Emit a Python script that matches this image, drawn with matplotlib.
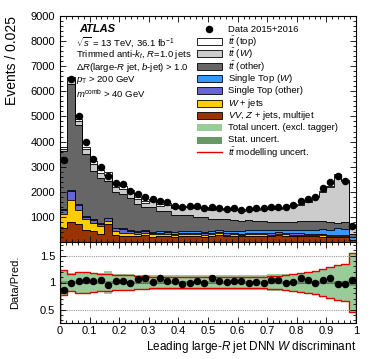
import numpy as np
import matplotlib
matplotlib.use('Agg')
import matplotlib.pyplot as plt
from matplotlib.ticker import MultipleLocator, FixedLocator
from matplotlib.patches import Rectangle

plt.rcParams['font.family'] = ['Liberation Sans', 'DejaVu Sans']
plt.rcParams['mathtext.fontset'] = 'custom'
plt.rcParams['mathtext.rm'] = 'Liberation Sans'
plt.rcParams['mathtext.it'] = 'Liberation Sans:italic'
plt.rcParams['mathtext.bf'] = 'Liberation Sans:bold'

# ── data (40 bins of 0.025) ───────────────────────────────────────────────────
edges = np.linspace(0.0, 1.0, 41)

data = [3280, 6500, 5010, 4000, 3310, 3000, 2640, 2350, 2290, 2040,
        1910, 1780, 1720, 1650, 1590, 1440, 1400, 1430, 1430, 1370,
        1400, 1370, 1330, 1360, 1290, 1320, 1340, 1350, 1390, 1400,
        1410, 1480, 1650, 1720, 1790, 2150, 2380, 2640, 2410, 620]

vv = [550, 800, 700, 480, 420, 330, 700, 260, 230, 250,
      220, 260, 200, 220, 230, 200, 230, 220, 250, 210,
      230, 260, 230, 240, 220, 250, 230, 250, 230, 260,
      240, 230, 230, 220, 220, 210, 200, 200, 200, 60]
wjets = [560, 880, 580, 420, 330, 300, 140, 190, 140, 100,
         110, 90, 100, 80, 90, 70, 80, 90, 60, 70,
         80, 80, 60, 70, 60, 70, 80, 60, 60, 70,
         60, 60, 60, 50, 50, 50, 50, 50, 40, 20]
st_other = [170, 360, 200, 110, 130, 100, 100, 90, 130, 80,
            80, 80, 70, 70, 70, 60, 60, 60, 60, 60,
            60, 50, 50, 50, 50, 50, 50, 50, 50, 50,
            50, 50, 50, 40, 40, 40, 40, 40, 40, 10]
st_w = [30, 30, 30, 30, 30, 30, 30, 30, 40, 40,
        40, 40, 40, 50, 50, 50, 50, 60, 60, 60,
        70, 70, 80, 90, 100, 90, 100, 110, 120, 110,
        120, 130, 130, 150, 170, 200, 170, 270, 230, 120]
tt_other = [2310, 4230, 3150, 2480, 1930, 1790, 1450, 1440, 1380, 1290,
            1050, 910, 990, 820, 780, 680, 660, 630, 580, 580,
            480, 470, 480, 430, 390, 400, 390, 360, 340, 300,
            320, 330, 350, 370, 360, 330, 340, 200, 270, 120]
tt_w = [80, 140, 140, 170, 260, 210, 230, 170, 180, 180,
        200, 180, 220, 210, 260, 290, 300, 340, 340, 365,
        335, 365, 390, 405, 395, 425, 440, 500, 500, 520,
        585, 630, 665, 765, 935, 1170, 1375, 1910, 1660, 230]
tt_top = [70, 120, 90, 100, 130, 125, 140, 110, 120, 120,
          85, 80, 80, 70, 70, 50, 50, 45, 40, 40,
          40, 40, 35, 35, 35, 35, 35, 35, 35, 35,
          35, 35, 35, 35, 35, 40, 40, 50, 45, 35]

# ratio-panel bands (half widths)
tot_unc = [0.23, 0.17, 0.20, 0.20, 0.17, 0.17, 0.22, 0.15, 0.15, 0.15,
           0.14, 0.14, 0.14, 0.13, 0.13, 0.14, 0.14, 0.14, 0.13, 0.13,
           0.13, 0.14, 0.13, 0.13, 0.13, 0.13, 0.13, 0.14, 0.15, 0.15,
           0.15, 0.16, 0.17, 0.19, 0.22, 0.25, 0.28, 0.32, 0.34, 0.55]
stat_unc = [0.02, 0.02, 0.02, 0.02, 0.02, 0.02, 0.03, 0.02, 0.02, 0.02,
            0.02, 0.02, 0.02, 0.02, 0.02, 0.02, 0.02, 0.02, 0.02, 0.02,
            0.02, 0.02, 0.02, 0.02, 0.02, 0.02, 0.02, 0.02, 0.02, 0.02,
            0.02, 0.02, 0.02, 0.02, 0.02, 0.02, 0.02, 0.02, 0.03, 0.06]
tt_mod = [0.23, 0.16, 0.19, 0.19, 0.17, 0.16, 0.15, 0.14, 0.14, 0.13,
          0.12, 0.12, 0.11, 0.11, 0.10, 0.10, 0.10, 0.10, 0.10, 0.10,
          0.10, 0.10, 0.10, 0.10, 0.10, 0.10, 0.10, 0.11, 0.12, 0.12,
          0.13, 0.15, 0.17, 0.19, 0.22, 0.25, 0.28, 0.32, 0.34, 0.55]

# stack, bottom to top
stack = [
    (vv,       '#993300', r'$VV$, $Z$ + jets, multijet'),
    (wjets,    '#ffcc00', r'$W$ + jets'),
    (st_other, '#6666cc', 'Single Top (other)'),
    (st_w,     '#3399ff', r'Single Top ($W$)'),
    (tt_other, '#666666', r'$t\bar{t}$ (other)'),
    (tt_w,     '#cccccc', r'$t\bar{t}$ ($W$)'),
    (tt_top,   '#ffffff', r'$t\bar{t}$ (top)'),
]
C_TOT, C_STAT, C_MOD = '#99cc99', '#669966', '#e00000'
LEG_FS = 6.8

# ── figure ────────────────────────────────────────────────────────────────────
W, H = 374, 359
fig = plt.figure(figsize=(W / 100, H / 100), dpi=100)
ax = fig.add_axes([60/W, 1-242/H, 296/W, 226/H])
axr = fig.add_axes([60/W, 1-323/H, 296/W, 81/H], sharex=ax)


def px(x, y):
    """pixel position in the reference -> main axes fraction"""
    return (x - 60) / 296, (242 - y) / 226


centers = 0.5 * (edges[:-1] + edges[1:])
cum = np.cumsum([np.array(v, float) for v, _, _ in stack], axis=0)

# draw from the top layer down so lower layers sit in front
for i in range(len(stack) - 1, -1, -1):
    ax.stairs(cum[i], edges, fill=True, color=stack[i][1], lw=0)
    ax.stairs(cum[i], edges, color='black', lw=0.6)

ax.plot(centers, data, 'o', color='black', ms=4.4, zorder=5)

ax.set_xlim(0, 1)
ax.set_ylim(0, 9000)
ax.yaxis.set_major_locator(FixedLocator(range(1000, 9001, 1000)))
ax.yaxis.set_minor_locator(MultipleLocator(200))
ax.set_ylabel('Events / 0.025', loc='top', fontsize=10)
ax.yaxis.set_label_coords((19 - 60) / 296, 1.0)
ax.tick_params(labelbottom=False)

# ATLAS label block
ax.text(*px(79, 29), 'ATLAS', transform=ax.transAxes, fontsize=8,
        fontweight='bold', style='italic', va='center')
info = [r'$\sqrt{s}$ = 13 TeV, 36.1 fb$^{-1}$',
        r'Trimmed anti-$k_{t}$, $R$=1.0 jets',
        r'$\Delta R$(large-$R$ jet, $b$-jet) > 1.0',
        r'$p_{\mathrm{T}}$ > 200 GeV',
        r'$m^{\mathrm{comb}}$ > 40 GeV']
for txt, y in zip(info, [42.5, 54.5, 67, 80.5, 94]):
    ax.text(*px(76, y), txt, transform=ax.transAxes, fontsize=LEG_FS,
            va='center')

# legend, drawn by hand so rows sit on a fixed pitch
rows = [29.3 + 12.3 * k for k in range(11)]
ax.plot(*px(209, rows[0]), 'o', color='black', ms=4.4,
        transform=ax.transAxes, clip_on=False)
ax.text(*px(228, rows[0]), 'Data 2015+2016', transform=ax.transAxes,
        fontsize=LEG_FS, va='center')
entries = [(c, lab, 'black') for _, c, lab in stack[::-1]]
entries += [(C_TOT, 'Total uncert. (excl. tagger)', 'none'),
            (C_STAT, 'Stat. uncert.', 'none')]
for k, (c, lab, ec) in enumerate(entries, start=1):
    x0, y0 = px(197, rows[k] + 3.5)
    x1, y1 = px(222, rows[k] - 3.5)
    ax.add_patch(Rectangle((x0, y0), x1 - x0, y1 - y0, transform=ax.transAxes,
                           facecolor=c, edgecolor=ec, lw=0.6, clip_on=False))
    ax.text(*px(228, rows[k]), lab, transform=ax.transAxes, fontsize=LEG_FS,
            va='center')
xa, ya = px(197, rows[10])
xb, _ = px(222, rows[10])
ax.plot([xa, xb], [ya, ya], color=C_MOD, lw=1, transform=ax.transAxes)
ax.text(*px(228, rows[10]), r'$t\bar{t}$ modelling uncert.',
        transform=ax.transAxes, fontsize=LEG_FS, va='center')

# ── ratio panel ──────────────────────────────────────────────────────────────
tot = cum[-1]
ratio = np.array(data) / tot
tu = np.array(tot_unc)
su = np.array(stat_unc)
mu = np.array(tt_mod)

axr.stairs(1 + tu, edges, baseline=1 - tu, fill=True, color=C_TOT, lw=0)
axr.stairs(1 + su, edges, baseline=1 - su, fill=True, color=C_STAT, lw=0)
axr.stairs(1 + mu, edges, color=C_MOD, lw=1.0)
axr.stairs(1 - mu, edges, color=C_MOD, lw=1.0)
for yv in (0.5, 1.0, 1.5):
    axr.axhline(yv, color='#555555' if yv == 1.0 else '#999999',
                ls=(0, (1, 1)), lw=0.8, zorder=1)
axr.plot(centers, ratio, 'o', color='black', ms=4.4, zorder=5)

axr.set_ylim(0.25, 1.75)
axr.yaxis.set_major_locator(FixedLocator([0.5, 1.0, 1.5]))
axr.yaxis.set_minor_locator(MultipleLocator(0.1))
axr.set_yticklabels(['0.5', '1', '1.5'])
axr.set_xticks(np.arange(0, 1.01, 0.1))
axr.xaxis.set_minor_locator(MultipleLocator(0.02))
axr.set_xticklabels(['0', '0.1', '0.2', '0.3', '0.4', '0.5', '0.6',
                     '0.7', '0.8', '0.9', '1'])
axr.set_ylabel('Data/Pred.', fontsize=8)
axr.yaxis.set_label_coords((20 - 60) / 296, 0.5)
axr.set_xlabel(r'Leading large-$R$ jet DNN $W$ discriminant',
               loc='right', fontsize=8.5, labelpad=2)
axr.tick_params(axis='x', pad=2)

for a in (ax, axr):
    a.tick_params(which='both', direction='in', top=True, right=True,
                  labelsize=8, width=0.6)
    a.tick_params(which='major', length=4)
    a.tick_params(which='minor', length=2)
    for s in a.spines.values():
        s.set_linewidth(0.8)

fig.savefig('out.png', dpi=100)
